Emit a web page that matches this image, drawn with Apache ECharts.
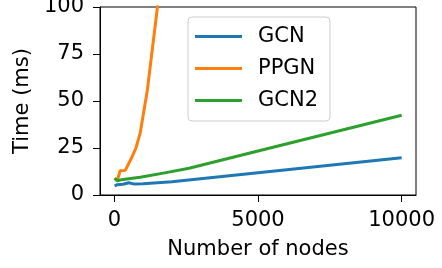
<!DOCTYPE html>
<html>
<head>
<meta charset="utf-8">
<script src="https://cdn.jsdelivr.net/npm/echarts@6/dist/echarts.min.js"></script>
<style>
	html, body { margin: 0; padding: 0; background: #fff; }
	#chart { width: 442px; height: 268px; }
</style>
</head>
<body>
<div id="chart"></div>
<script>
	// 读图估计的数据
	var gcnNodes = [10, 100, 300, 500, 700, 1000, 2000, 5000, 10000];
	var gcnTime = [4.8, 5.5, 5.7, 6.5, 5.8, 6.0, 7.1, 11.8, 19.8];
	var ppgnNodes = [10, 100, 200, 380, 600, 750, 900, 1150, 1500, 2000];
	var ppgnTime = [8.9, 7.6, 12.9, 13.1, 19.8, 25, 33, 56, 100, 180];
	var gcn2Nodes = [10, 100, 300, 900, 1800, 2600, 5000, 10000];
	var gcn2Time = [8.9, 7.6, 8.3, 9.4, 11.9, 14.2, 23.4, 42.4];
	var xTicks = [0, 5000, 10000];
	var yTicks = [0, 25, 50, 75, 100];

	function pairs(xs, ys) {
		return xs.map(function (x, i) { return [x, ys[i]]; });
	}

	var font = 'DejaVu Sans';
	var fs = 21;
	var myChart = echarts.init(document.getElementById('chart'));

	function lineSeries(name, color, xs, ys) {
		return {
			name: name,
			type: 'line',
			data: pairs(xs, ys),
			symbol: 'none',
			showSymbol: false,
			clip: true,
			color: color,
			lineStyle: { width: 3, color: color }
		};
	}

	var option = {
		animation: false,
		grid: {
			left: 100, right: 26, top: 7, bottom: 73,
			outerBoundsMode: 'none',
			containLabel: false,
			show: true, borderColor: '#000', borderWidth: 1, backgroundColor: 'transparent'
		},
		legend: {
			orient: 'vertical',
			left: 188, top: 17,
			padding: [9, 12, 10, 7],
			itemWidth: 47, itemHeight: 3, itemGap: 11,
			icon: 'rect',
			borderColor: '#cccccc', borderWidth: 1, borderRadius: 4,
			backgroundColor: 'rgba(255,255,255,0.8)',
			textStyle: { fontFamily: font, fontSize: fs, color: '#000', lineHeight: 20, padding: [0, 0, 0, 11] },
			data: ['GCN', 'PPGN', 'GCN2']
		},
		xAxis: {
			type: 'value',
			min: -500, max: 10500,
			name: 'Number of nodes',
			nameLocation: 'middle',
			nameGap: 44,
			nameTextStyle: { fontFamily: font, fontSize: fs, color: '#000' },
			axisLine: { show: true, onZero: false, lineStyle: { color: '#000', width: 1 } },
			axisTick: { show: true, length: 7, inside: false, customValues: xTicks, lineStyle: { color: '#000' } },
			axisLabel: {
				customValues: xTicks, fontFamily: font, fontSize: fs, color: '#000', margin: 15,
				formatter: function (v) { return String(v); }
			},
			splitLine: { show: false }
		},
		yAxis: {
			type: 'value',
			min: 0, max: 100, interval: 25,
			name: 'Time (ms)',
			nameLocation: 'middle',
			nameGap: 64,
			nameRotate: 90,
			nameTextStyle: { fontFamily: font, fontSize: fs, color: '#000' },
			axisLine: { show: true, onZero: false, lineStyle: { color: '#000', width: 1 } },
			axisTick: { show: true, length: 7, inside: false, lineStyle: { color: '#000' } },
			axisLabel: { fontFamily: font, fontSize: fs, color: '#000', margin: 16 },
			splitLine: { show: false }
		},
		series: [
			lineSeries('GCN', '#1f77b4', gcnNodes, gcnTime),
			lineSeries('PPGN', '#ff7f0e', ppgnNodes, ppgnTime),
			lineSeries('GCN2', '#2ca02c', gcn2Nodes, gcn2Time)
		]
	};
	myChart.setOption(option);
</script>
</body>
</html>
